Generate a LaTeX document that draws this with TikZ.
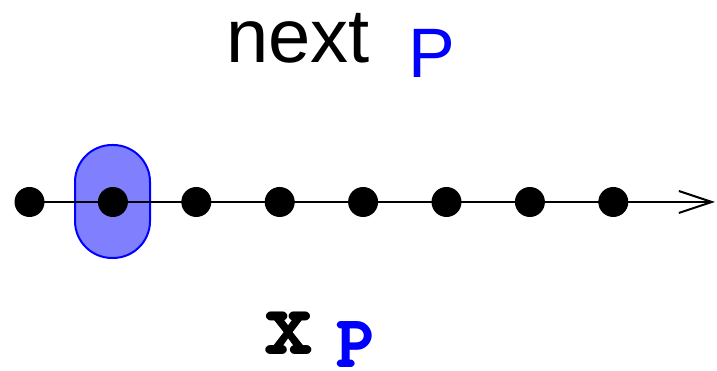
\documentclass[tikz,border=0pt]{standalone}
\usepackage{fontspec}
\setmainfont{Liberation Sans}
\usetikzlibrary{arrows.meta}
\newcommand{\curfont}[1]{\ttfamily\bfseries\fontsize{#1}{#1}\selectfont}
\newcommand{\fakebold}[1]{\rlap{\kern-1pt#1}\rlap{\kern1pt#1}\rlap{\raisebox{1pt}{#1}}\rlap{\raisebox{-1pt}{#1}}#1}
\begin{document}
\begin{tikzpicture}[x=1pt,y=1pt,
  dot/.style={circle,fill=black,inner sep=0pt,minimum size=30pt},
  lbl/.style={anchor=base west,inner sep=0pt},
  hilite/.style={draw=blue,fill=blue!50,line width=2pt,rounded corners=37pt}]
\useasboundingbox (0,0) rectangle (717,371);
\draw[hilite] (75,113) rectangle (150,226);
\foreach \i in {0,...,7}{
  \coordinate (c\i) at ({29.5+83.4*\i},169);
}
\coordinate (tip) at (715,169);
\draw[line width=2pt,-{Straight Barb[length=33pt,width=22pt,line width=2pt]}] (c0) -- (tip);
\foreach \i in {0,...,7}{
  \node[dot] (d\i) at (c\i) {};
}
\node[lbl] (next) at (226,308) {\fontsize{76}{76}\selectfont next};
\node[lbl,text=blue] (p1) at (408,293) {\fontsize{70}{70}\selectfont P};
\node[lbl] (x) at (264,17) {\curfont{93}\fakebold{x}};
\node[lbl,text=blue] (p2) at (336,4) {\curfont{72}\fakebold{P}};
\end{tikzpicture}
\end{document}
